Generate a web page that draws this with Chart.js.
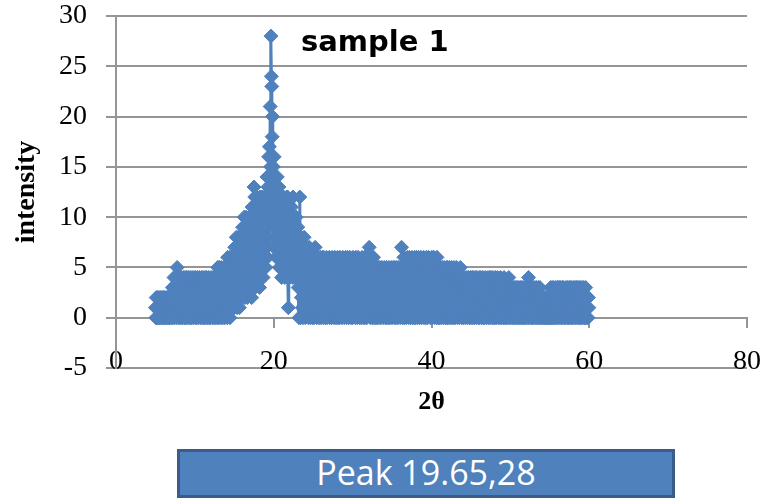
<!DOCTYPE html>
<html>
<head>
<meta charset="utf-8">
<script src="https://cdn.jsdelivr.net/npm/chart.js@4/dist/chart.umd.min.js"></script>
<style>
  body { margin: 0; background: #fff; }
  #wrap { position: relative; width: 766px; height: 498px; overflow: hidden; }
  #chart { position: absolute; left: 0; top: 0; }
  #sampleTitle {
    position: absolute; left: 301px; top: 27px;
    font: bold 29px "DejaVu Sans", sans-serif; line-height: 29px; color: #000;
    white-space: nowrap;
  }
  #peakBox {
    position: absolute; left: 177px; top: 449px; width: 492px; height: 43px;
    background: #4F81BD; border: 3px solid #385D8A;
    color: #fff; font: 34px "Open Sans", sans-serif; line-height: 41px;
    text-align: center; white-space: nowrap;
  }
</style>
</head>
<body>
<div id="wrap">
  <canvas id="chart" width="766" height="440"></canvas>
  <div id="sampleTitle">sample 1</div>
  <div id="peakBox">Peak 19.65,28</div>
</div>
<script>
// 2θ sampling of the scan
var twoThetaStart = 5.0;
var twoThetaStep = 0.05;

// intensity, one row per degree (5.00 ... 59.95)
var intensity = [
  1,0,2,0,1,2,0,1,0,2,1,0,2,1,0,1,2,0,1,2,
  0,2,1,0,2,1,0,1,2,0,1,2,0,2,1,0,2,0,1,2,
  0,2,1,3,0,2,1,4,0,3,1,2,4,0,3,5,1,4,0,3,
  1,4,0,3,2,0,4,1,3,0,2,4,1,0,3,4,0,2,1,4,
  0,3,1,4,2,0,3,1,4,0,2,3,0,4,1,2,0,3,4,1,
  2,0,4,1,3,0,2,4,1,0,3,1,4,2,0,3,1,4,0,2,
  1,4,0,3,2,0,4,1,3,0,4,2,1,0,3,4,1,0,2,3,
  0,4,2,1,3,0,4,1,2,0,3,4,1,0,2,4,3,0,5,1,
  3,0,5,1,4,2,0,5,3,1,4,0,2,5,1,3,0,4,2,5,
  1,5,0,6,3,1,4,2,6,0,5,3,1,6,2,4,1,5,2,6,
  1,7,3,5,2,8,4,1,6,3,8,2,5,1,7,4,2,8,3,6,
  2,9,4,7,3,10,5,2,8,4,10,3,6,2,9,5,3,10,4,7,
  3,10,5,8,2,11,6,3,9,4,13,5,12,3,10,6,4,12,5,9,
  4,11,6,9,3,12,7,4,10,5,12,6,11,4,9,6,12,5,10,7,
  5,12,7,14,6,13,9,16,8,17,10,21,15,28,24,23,18,20,11,15,
  7,16,9,14,8,13,6,12,10,14,6,11,8,13,5,10,7,12,5,9,
  4,11,6,10,5,12,7,9,4,11,6,10,5,12,8,12,4,1,9,5,
  4,10,6,9,5,11,7,9,4,12,6,10,5,9,4,8,6,10,4,7,
  4,9,3,8,0,7,12,5,0,8,2,6,1,7,0,5,3,8,1,6,
  0,6,2,7,1,5,3,6,0,4,7,2,5,0,6,3,1,5,0,4,
  2,6,0,5,3,7,1,4,6,0,5,2,6,1,3,0,5,2,6,1,
  0,5,2,6,1,4,0,6,3,1,5,0,4,2,6,0,3,5,1,4,
  2,6,0,4,1,5,3,0,6,2,4,1,5,0,3,6,1,4,0,5,
  1,4,6,0,3,5,2,0,6,1,4,2,5,0,3,6,1,5,2,0,
  4,1,6,2,5,0,3,6,1,4,0,5,2,6,1,3,0,5,2,4,
  0,6,3,1,5,2,4,0,6,1,3,5,0,2,6,4,1,5,0,3,
  2,5,0,4,6,1,3,0,5,2,6,0,4,1,5,3,0,6,2,4,
  1,5,7,2,4,0,6,3,1,5,0,4,2,6,0,3,5,1,4,0,
  3,5,0,4,1,5,2,0,3,5,1,4,0,2,5,3,1,4,0,3,
  5,1,3,0,4,2,5,0,3,1,4,0,5,2,3,0,4,1,5,2,
  0,4,2,5,1,3,0,5,2,4,0,3,5,1,4,0,2,5,3,1,
  4,0,5,2,7,1,3,0,5,2,6,0,4,1,3,5,0,4,2,6,
  1,5,0,3,6,2,4,0,5,1,6,3,0,4,2,5,0,6,1,3,
  0,4,6,2,5,0,3,6,1,4,0,5,2,6,3,0,4,1,5,2,
  6,0,3,5,1,4,0,6,2,5,0,3,6,1,4,2,5,0,3,1,
  4,6,0,3,5,1,6,2,0,4,5,1,3,0,6,2,4,0,5,1,
  3,0,5,2,4,0,3,5,1,4,0,2,5,1,3,0,4,2,5,0,
  2,5,0,4,1,3,5,0,2,4,1,5,0,3,2,4,0,5,1,3,
  0,4,2,5,1,3,0,4,2,1,4,0,3,5,1,2,4,0,3,1,
  4,0,2,3,1,4,0,3,1,2,4,0,3,1,4,2,0,3,1,4,
  0,3,1,4,2,0,4,1,3,0,2,4,1,3,0,4,2,1,3,0,
  2,4,0,3,1,4,2,0,3,1,4,0,2,3,1,0,4,2,1,3,
  0,3,1,4,2,0,3,1,4,0,2,4,1,3,0,2,4,1,0,3,
  2,0,4,1,3,0,2,4,1,3,0,2,1,3,0,4,1,2,0,3,
  1,3,0,2,4,1,0,3,2,0,3,1,2,0,3,1,4,0,2,1,
  3,0,2,1,3,0,2,3,1,0,2,3,0,1,3,2,0,3,1,2,
  0,3,1,2,0,3,1,0,2,3,1,0,3,2,0,1,3,0,2,1,
  3,0,2,1,3,0,4,1,2,0,3,1,2,0,3,1,0,2,3,0,
  2,1,3,0,2,1,3,0,1,2,0,3,1,2,0,3,1,0,2,1,
  0,2,1,0,2,1,0,2,0,1,2,0,1,2,0,1,0,2,1,0,
  2,0,3,1,2,0,3,1,0,2,3,0,1,2,0,3,1,2,0,3,
  1,3,0,2,1,3,0,2,3,1,0,2,3,0,1,3,2,0,1,2,
  0,3,1,2,0,3,1,0,2,3,1,0,3,2,0,1,3,0,2,1,
  3,0,2,1,3,0,2,3,1,0,3,1,2,0,3,1,0,2,3,0,
  2,1,3,0,2,1,3,0,1,2,0,3,1,2,0,2,1,0,2,1
];

var xTickLabels = [0, 20, 40, 60, 80];
var yTickLabels = [-5, 0, 5, 10, 15, 20, 25, 30];

var points = intensity.map(function (v, i) {
  return { x: +(twoThetaStart + i * twoThetaStep).toFixed(2), y: v };
});

var serif = "'Liberation Serif', 'Times New Roman', serif";
var gridGray = '#959595';

function fixedTicks(list) {
  return function (s) { s.ticks = list.map(function (v) { return { value: v }; }); };
}

new Chart(document.getElementById('chart').getContext('2d'), {
  type: 'scatter',
  data: {
    datasets: [{
      data: points,
      showLine: true,
      borderColor: '#4F81BD',
      backgroundColor: '#4F81BD',
      borderWidth: 3,
      pointStyle: 'rectRot',
      pointRadius: 7,
      pointBorderWidth: 1,
      pointBorderColor: '#4F81BD',
      pointBackgroundColor: '#4F81BD'
    }]
  },
  options: {
    responsive: false,
    animation: false,
    devicePixelRatio: 1,
    events: [],
    layout: { padding: { top: 16, right: 19, left: 0, bottom: 0 } },
    plugins: { legend: { display: false }, tooltip: { enabled: false } },
    scales: {
      // bottom axis only carries the title, labels come from the axis at y = 0
      x: {
        type: 'linear', position: 'bottom', min: 0, max: 80,
        afterBuildTicks: fixedTicks(xTickLabels),
        afterFit: function (s) { s.height = 72; s.paddingLeft = 0; s.paddingRight = 0; },
        grid: { display: false, drawTicks: false },
        border: { display: false },
        ticks: { display: false },
        title: {
          display: true, text: '2θ', color: '#000',
          padding: { top: 0, bottom: 22 },
          font: { family: serif, size: 26, weight: 'bold' }
        }
      },
      xZero: {
        type: 'linear', axis: 'x', position: { y: 0 }, min: 0, max: 80,
        afterBuildTicks: fixedTicks(xTickLabels),
        afterFit: function (s) { s.paddingLeft = 0; s.paddingRight = 0; s.paddingTop = 0; s.paddingBottom = 0; },
        grid: { drawOnChartArea: false, drawTicks: true, tickLength: 9, color: gridGray, lineWidth: 2 },
        border: { display: true, color: gridGray, width: 2 },
        ticks: { color: '#000', padding: 18, maxRotation: 0, font: { family: serif, size: 28 } }
      },
      y: {
        type: 'linear', min: -5, max: 30,
        afterBuildTicks: fixedTicks(yTickLabels),
        afterFit: function (s) { s.width = 116; s.paddingTop = 0; s.paddingBottom = 0; },
        grid: { color: gridGray, lineWidth: 2, tickLength: 10 },
        border: { display: true, color: gridGray, width: 2 },
        ticks: { color: '#000', padding: 19, font: { family: serif, size: 28, lineHeight: 1.1 } },
        title: {
          display: true, text: 'intensity', color: '#000',
          padding: { top: 10, bottom: 0 },
          font: { family: serif, size: 28, weight: 'bold' }
        }
      }
    }
  }
});
</script>
</body>
</html>
